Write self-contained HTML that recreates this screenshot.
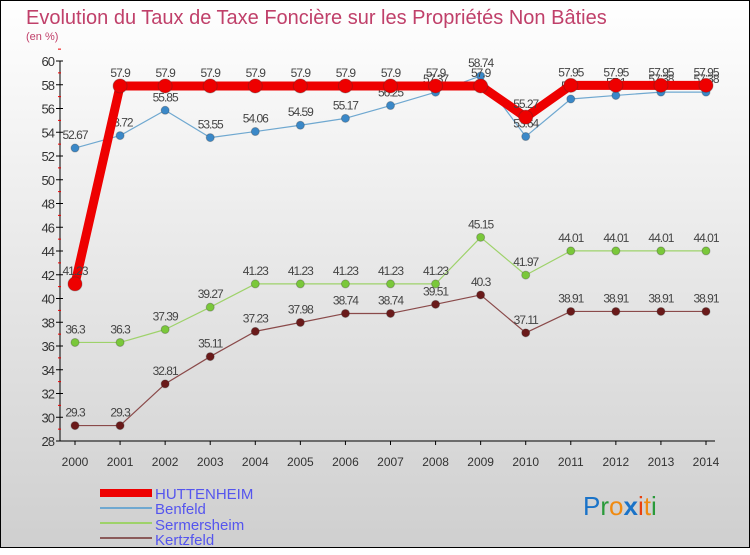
<!DOCTYPE html>
<html><head><meta charset="utf-8"><style>
body{margin:0;width:750px;height:550px;overflow:hidden}
svg text{font-family:"Liberation Sans",sans-serif}
</style></head><body>
<svg id="c" width="750" height="550">
<defs><linearGradient id="bg" x1="0" y1="0" x2="0" y2="1"><stop offset="0" stop-color="#ffffff"/><stop offset="1" stop-color="#cfcfcf"/></linearGradient></defs>
<rect x="0.5" y="0.5" width="749" height="547" fill="url(#bg)" stroke="#000"/>
<text x="26" y="24" font-size="20" fill="#c0406a">Evolution du Taux de Taxe Foncière sur les Propriétés Non Bâties</text>
<text x="26" y="40" font-size="11" fill="#c0406a">(en %)</text>
<g id="axes"></g><g id="series"></g>
<g>
<rect x="100" y="489" width="52" height="8" fill="#e00"/><text x="155" y="499" font-size="15" fill="#5555ee">HUTTENHEIM</text>
<line x1="100" y1="508" x2="152" y2="508" stroke="#6fa8d0" stroke-width="2"/><text x="155" y="514" font-size="15" fill="#5555ee">Benfeld</text>
<line x1="100" y1="523" x2="152" y2="523" stroke="#9ed26a" stroke-width="2"/><text x="155" y="530" font-size="15" fill="#5555ee">Sermersheim</text>
<line x1="100" y1="538" x2="152" y2="538" stroke="#8a5a5a" stroke-width="2"/><text x="155" y="545" font-size="15" fill="#5555ee">Kertzfeld</text>
</g>
<g font-size="26" font-family="DejaVu Sans,sans-serif">
<text x="583" y="515"><tspan fill="#1a73c8">P</tspan><tspan fill="#2a9a3a">r</tspan><tspan fill="#f08a10">o</tspan><tspan fill="#1a73c8" font-weight="bold">x</tspan><tspan fill="#e84010">i</tspan><tspan fill="#f08a10">t</tspan><tspan fill="#2a9a3a">i</tspan></text>
</g>
</svg>
<script>
const years=[2000,2001,2002,2003,2004,2005,2006,2007,2008,2009,2010,2011,2012,2013,2014];
const yTicks=[28,30,32,34,36,38,40,42,44,46,48,50,52,54,56,58,60];
const huttenheim=[41.23,57.9,57.9,57.9,57.9,57.9,57.9,57.9,57.9,57.9,55.27,57.95,57.95,57.95,57.95];
const benfeld=[52.67,53.72,55.85,53.55,54.06,54.59,55.17,56.25,57.37,58.74,53.64,56.8,57.1,57.38,57.38];
const sermersheim=[36.3,36.3,37.39,39.27,41.23,41.23,41.23,41.23,41.23,45.15,41.97,44.01,44.01,44.01,44.01];
const kertzfeld=[29.3,29.3,32.81,35.11,37.23,37.98,38.74,38.74,39.51,40.3,37.11,38.91,38.91,38.91,38.91];
const NS='http://www.w3.org/2000/svg';
const X=i=>75+i*(706-75)/(years.length-1);
const Y=v=>441-(v-28)*(380/32);
function mk(t,a,p,txt){const e=document.createElementNS(NS,t);for(const k in a)e.setAttribute(k,a[k]);if(txt!==undefined)e.textContent=txt;p.appendChild(e);return e;}
const ax=document.getElementById('axes');
const yl=mk('line',{x1:60,y1:Y(60),x2:60,y2:Y(28),stroke:'#000'},ax);


yTicks.forEach(t=>{mk('line',{x1:56,x2:63,y1:Y(t),y2:Y(t),stroke:'#000'},ax);
mk('line',{x1:58,x2:61,y1:Y(t+1),y2:Y(t+1),stroke:'#e00'},ax);
const l=mk('text',{x:54,y:Y(t)+5,'font-size':13,'text-anchor':'end',fill:'#333','letter-spacing':'-1'},ax,t);

});
const xl=mk('line',{x1:60,y1:Y(28),x2:715,y2:Y(28),stroke:'#000'},ax);


years.forEach((y,i)=>{mk('line',{x1:X(i),x2:X(i),y1:Y(28),y2:Y(28)+4,stroke:'#000'},ax);
const l=mk('text',{x:X(i),y:466,'font-size':12,'text-anchor':'middle',fill:'#333'},ax,y);

});
const sg=document.getElementById('series');
function draw(name,data,color,w,r,dot){
const g=mk('g',{},sg);


mk('polyline',{points:data.map((v,i)=>X(i)+','+Y(v)).join(' '),fill:'none',stroke:color,'stroke-width':w,'stroke-linejoin':'round'},g);
data.forEach((v,i)=>{const c=mk('circle',{cx:X(i),cy:Y(v),r:r,fill:dot,stroke:'#333','stroke-opacity':0.3},g);


const t=mk('text',{x:X(i),y:Y(v)-9,'font-size':12,'text-anchor':'middle',fill:'#444','letter-spacing':'-1'},g,v);

});}
draw('kertzfeld',kertzfeld,'#8a4a4a',1.2,4,'#6a1a1a');
draw('sermersheim',sermersheim,'#9ed26a',1.2,4,'#7ac83a');
draw('benfeld',benfeld,'#6fa8d0',1.2,4,'#3a88c8');
draw('huttenheim',huttenheim,'#ee0000',9,7,'#ee0000');
</script>
</body></html>
